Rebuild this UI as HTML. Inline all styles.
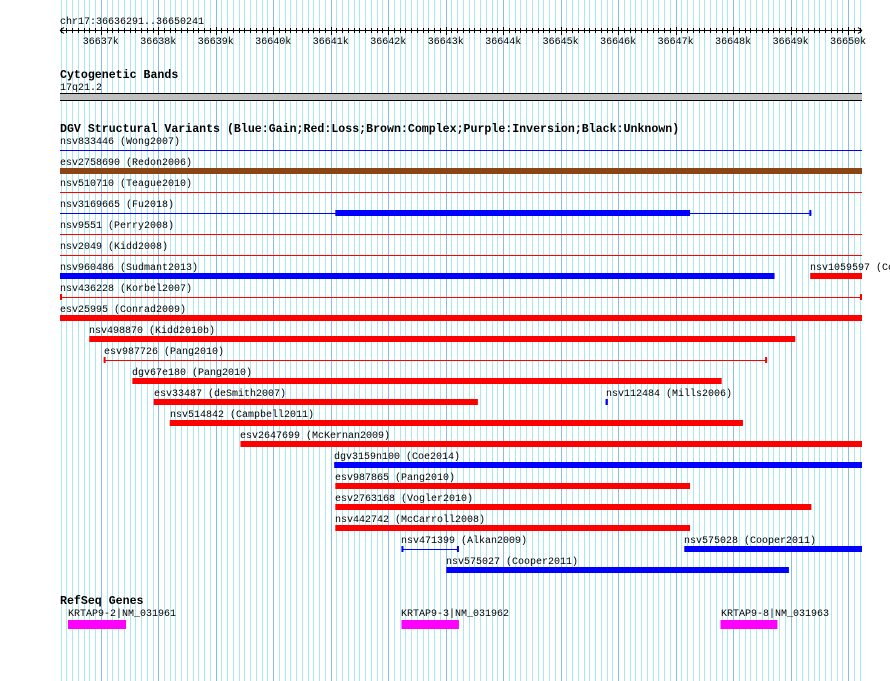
<!DOCTYPE html>
<html><head><meta charset="utf-8"><style>
html,body{margin:0;padding:0;background:#fff;}
svg{display:block;}
text{font-family:"Liberation Mono","DejaVu Sans Mono",monospace;font-size:10px;fill:#000;}
.b{font-weight:bold;font-size:11.6px;}
</style></head><body>
<svg id="chart" width="890" height="681" xmlns="http://www.w3.org/2000/svg"></svg>
<script>
const regionStart = 36636291;
const regionEnd = 36650241;
const kbTicks = [36637,36638,36639,36640,36641,36642,36643,36644,36645,36646,36647,36648,36649,36650];
const svNames = ["nsv833446 (Wong2007)","esv2758690 (Redon2006)","nsv510710 (Teague2010)","nsv3169665 (Fu2018)","nsv9551 (Perry2008)","nsv2049 (Kidd2008)","nsv960486 (Sudmant2013)","nsv1059597 (Coe2014)","nsv436228 (Korbel2007)","esv25995 (Conrad2009)","nsv498870 (Kidd2010b)","esv987726 (Pang2010)","dgv67e180 (Pang2010)","esv33487 (deSmith2007)","nsv112484 (Mills2006)","nsv514842 (Campbell2011)","esv2647699 (McKernan2009)","dgv3159n100 (Coe2014)","esv987865 (Pang2010)","esv2763168 (Vogler2010)","nsv442742 (McCarroll2008)","nsv471399 (Alkan2009)","nsv575028 (Cooper2011)","nsv575027 (Cooper2011)"];
const svRows = [0,1,2,3,4,5,6,6,7,8,9,10,11,12,12,13,14,15,16,17,18,19,19,20];
const svStarts = [36636291,36636291,36636291,36636291,36636291,36636291,36636291,36649340,36636291,36636291,36636800,36637050,36637550,36637920,36645780,36638200,36639430,36641060,36641080,36641080,36641080,36642230,36647150,36643010];
const svEnds = [36650241,36650241,36650241,36649360,36650241,36650241,36648720,36650241,36650241,36650241,36649080,36648590,36647800,36643560,36645820,36648170,36650241,36650241,36647250,36649360,36647250,36643230,36650241,36648970];
const svThickStarts = [null,null,null,36641080,null,null,null,null,null,null,null,null,null,null,null,null,null,null,null,null,null,null,null,null];
const svThickEnds = [null,null,null,36647250,null,null,null,null,null,null,null,null,null,null,null,null,null,null,null,null,null,null,null,null];
const svTypes = ["gain","complex","loss","gain","loss","loss","gain","loss","loss","loss","loss","loss","loss","loss","gain","loss","loss","gain","loss","loss","loss","gain","gain","gain"];
const svStyles = ["line","thick","line","mixed","line","line","thick","thick","capped","thick","thick","capped","thick","thick","tick","thick","thick","thick","thick","thick","thick","capped","thick","thick"];
const geneNames = ["KRTAP9-2|NM_031961","KRTAP9-3|NM_031962","KRTAP9-8|NM_031963"];
const geneStarts = [36636430,36642230,36647780];
const geneEnds = [36637440,36643230,36648770];

const NS="http://www.w3.org/2000/svg";
const svg=document.getElementById('chart');
const X0=60,X1=862;
const sc=(X1-X0)/(regionEnd-regionStart);
const xs=bp=>X0+(Math.min(Math.max(bp,regionStart),regionEnd)-regionStart)*sc;
function mk(t,a,p){const e=document.createElementNS(NS,t);for(const k in a)e.setAttribute(k,a[k]);(p||svg).appendChild(e);return e;}
const colors={gain:"#0000ff",loss:"#ff0000",complex:"#8b4513"};

const grid=mk('g',{});


for(let bp=Math.ceil(regionStart/100)*100;bp<=regionEnd;bp+=100){
  const x=Math.round(xs(bp))+0.5;
  const major=bp%1000===0;
  const l=mk('line',{x1:x,x2:x,y1:0,y2:681,stroke:major?'#88bde8':'#a8e8ee','stroke-width':1},grid);
  
  
}

const rl=mk('text',{x:60,y:24});rl.textContent='chr17:36636291..36650241';


const ax=mk('g',{});


mk('line',{x1:X0,x2:X1,y1:30.5,y2:30.5,stroke:'#000'},ax);
mk('path',{d:`M${X0} 30.5 l4 -3 M${X0} 30.5 l4 3 M${X1} 30.5 l-4 -3 M${X1} 30.5 l-4 3`,stroke:'#000',fill:'none'},ax);
for(let bp=Math.ceil(regionStart/100)*100;bp<=regionEnd;bp+=100){
  const x=Math.round(xs(bp))+0.5;
  const major=bp%1000===0;
  mk('line',{x1:x,x2:x,y1:major?27:28,y2:major?35:33,stroke:'#000'},ax);
}
kbTicks.forEach(k=>{
  const t=mk('text',{x:xs(k*1000),y:44,'text-anchor':'middle'},ax);t.textContent=k+'k';
  
  
});

const ct=mk('text',{x:60,y:78,class:'b'});ct.textContent='Cytogenetic Bands';


const cl=mk('text',{x:60,y:90});cl.textContent='17q21.2';


const cb=mk('g',{});


mk('rect',{x:X0,y:94,width:X1-X0,height:6,fill:'#c0c0c0'},cb);
mk('line',{x1:X0,x2:X1,y1:93.5,y2:93.5,stroke:'#000'},cb);
mk('line',{x1:X0,x2:X1,y1:100.5,y2:100.5,stroke:'#000'},cb);

const st=mk('text',{x:60,y:132,class:'b'});st.textContent='DGV Structural Variants (Blue:Gain;Red:Loss;Brown:Complex;Purple:Inversion;Black:Unknown)';


svNames.forEach((n,i)=>{
  const r=svRows[i],c=colors[svTypes[i]];
  const g=mk('g',{});
  
  
  const x1=xs(svStarts[i]),x2=xs(svEnds[i]);
  const t=mk('text',{x:Math.round(x1),y:144+21*r},g);t.textContent=n;
  const ly=150.5+21*r;
  const s=svStyles[i];
  if(s==='line'||s==='mixed'||s==='capped'){
    mk('line',{x1:x1,x2:x2,y1:ly,y2:ly,stroke:c},g);
  }
  if(s==='capped'){
    mk('rect',{x:x1,y:ly-3.5,width:2,height:6,fill:c},g);
    mk('rect',{x:x2-2,y:ly-3.5,width:2,height:6,fill:c},g);
  }
  if(s==='mixed'){
    mk('rect',{x:x2-2,y:ly-3.5,width:2,height:6,fill:c},g);
    const a=xs(svThickStarts[i]),b=xs(svThickEnds[i]);
    mk('rect',{x:a,y:147+21*r,width:b-a,height:6,fill:c},g);
  }
  if(s==='thick'){
    mk('rect',{x:x1,y:147+21*r,width:x2-x1,height:6,fill:c},g);
  }
  if(s==='tick'){
    mk('rect',{x:x1,y:147+21*r,width:Math.max(2,x2-x1),height:6,fill:c},g);
  }
});

const gt=mk('text',{x:60,y:604,class:'b'});gt.textContent='RefSeq Genes';


geneNames.forEach((n,i)=>{
  const g=mk('g',{});
  
  
  const a=xs(geneStarts[i]),b=xs(geneEnds[i]);
  const t=mk('text',{x:Math.round(a),y:616},g);t.textContent=n;
  mk('rect',{x:a,y:620,width:b-a,height:9,fill:'#ff00ff'},g);
});
</script>
</body></html>
